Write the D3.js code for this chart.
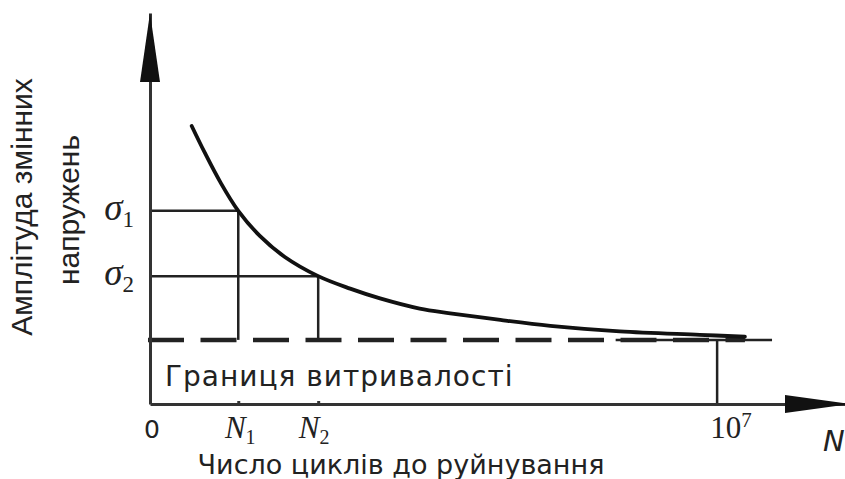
<!DOCTYPE html>
<html>
<head>
<meta charset="utf-8">
<script src="https://cdn.jsdelivr.net/npm/d3@7"></script>
<style>
    html, body { margin: 0; padding: 0; background: #fff; }
    svg { display: block; }
</style>
</head>
<body>
<svg id="chart"></svg>
<script>
// данные (условные единицы, ось N и ось σ от 0 до 100)
var curveN = [6.0, 7.9, 10.1, 12.7, 15.8, 19.4, 24.2, 28.8, 33.1, 38.8, 43.2, 50.4, 57.6, 67.6, 79.1, 85.6];
var curveS = [71.1, 64.2, 56.8, 49.4, 43.0, 37.6, 32.7, 29.5, 27.0, 24.4, 23.2, 21.5, 20.0, 18.6, 17.7, 17.2];

var stressLevels = [49.4, 32.7];          // σ1, σ2
var stressLabels = ["1", "2"];            // индексы σ
var cycleLevels = [12.7, 24.2];           // N1, N2
var enduranceLimit = 16.4;                // граница выносливости
var baseCycles = 81.6;                    // 10^7
var limitLineEnd = 89.5;

var xTicks = [0, 12.7, 24.2, 81.6];
var xTickBase = ["0", "N", "N", "10"];
var xTickSub = ["", "1", "2", ""];
var xTickSup = ["", "", "", "7"];

var yTitle = ["Амплітуда змінних", "напружень"];
var xTitle = "Число циклів до руйнування";
var limitTitle = "Границя витривалості";

(function() {
    var iWidth = 845;
    var iHeight = 479;
    var sInk = "#222";

    var svg = d3.select("#chart")
        .attr("width", iWidth)
        .attr("height", iHeight);

    // шкалы
    var xScale = d3.scaleLinear().domain([0, 100]).range([150, 845]);
    var yScale = d3.scaleLinear().domain([0, 100]).range([404, 13]);

    // вспомогательные линии σ и N
    var guides = svg.append("g")
        .attr("stroke", sInk)
        .attr("stroke-width", 2.5);

    stressLevels.forEach(function(s, i) {
        guides.append("line")
            .attr("x1", xScale(0)).attr("x2", xScale(cycleLevels[i]))
            .attr("y1", yScale(s)).attr("y2", yScale(s));
        guides.append("line")
            .attr("x1", xScale(cycleLevels[i])).attr("x2", xScale(cycleLevels[i]))
            .attr("y1", yScale(s)).attr("y2", yScale(enduranceLimit));
    });

    guides.append("line")
        .attr("x1", xScale(baseCycles)).attr("x2", xScale(baseCycles))
        .attr("y1", yScale(enduranceLimit)).attr("y2", yScale(0));

    // граница выносливости
    svg.append("line")
        .attr("x1", xScale(67)).attr("x2", xScale(limitLineEnd))
        .attr("y1", yScale(enduranceLimit)).attr("y2", yScale(enduranceLimit))
        .attr("stroke", sInk)
        .attr("stroke-width", 2.5);

    svg.append("line")
        .attr("x1", xScale(0) - 2).attr("x2", xScale(curveN[curveN.length - 1]))
        .attr("y1", yScale(enduranceLimit)).attr("y2", yScale(enduranceLimit))
        .attr("stroke", sInk)
        .attr("stroke-width", 4.5)
        .attr("stroke-dasharray", "36,16.5");

    // кривая усталости
    var line = d3.line()
        .x(function(d, i) { return xScale(curveN[i]); })
        .y(function(d, i) { return yScale(curveS[i]); })
        .curve(d3.curveCatmullRom);

    svg.append("path")
        .datum(curveN)
        .attr("fill", "none")
        .attr("stroke", "#111")
        .attr("stroke-width", 3.8)
        .attr("stroke-linecap", "round")
        .attr("d", line);

    // оси
    var xAxis = svg.append("g")
        .attr("transform", "translate(0," + yScale(0) + ")")
        .call(d3.axisBottom(xScale).tickValues(cycleLevels).tickSize(-3).tickSizeOuter(0).tickFormat(""));
    var yAxis = svg.append("g")
        .attr("transform", "translate(" + xScale(0) + ",0)")
        .call(d3.axisLeft(yScale).tickValues([]).tickSizeOuter(0));

    [xAxis, yAxis].forEach(function(g) {
        g.selectAll("path, line")
            .attr("stroke", "#333")
            .attr("stroke-width", 3);
    });

    // стрелки
    var x0 = xScale(0), y0 = yScale(0);
    svg.append("path")
        .attr("d", "M" + (x0 - 10) + ",82 L" + x0 + ",13 L" + (x0 + 10) + ",82 Z")
        .attr("fill", "#111");
    svg.append("path")
        .attr("d", "M785," + (y0 - 9) + " L850," + y0 + " L785," + (y0 + 9) + " Z")
        .attr("fill", "#111");

    // подписи σ
    var sLabels = svg.append("g")
        .attr("font-family", "'Liberation Serif', serif")
        .attr("font-style", "italic")
        .attr("fill", sInk);

    stressLevels.forEach(function(s, i) {
        var t = sLabels.append("text")
            .attr("x", 134)
            .attr("y", yScale(s) + 9)
            .attr("text-anchor", "end")
            .attr("font-size", 37);
        t.append("tspan").text("σ");
        t.append("tspan")
            .attr("font-style", "normal")
            .attr("font-size", 23)
            .attr("dy", 7)
            .text(stressLabels[i]);
    });

    // подписи оси N
    xTicks.forEach(function(v, i) {
        var t = svg.append("text")
            .attr("x", xScale(v) + (i === 3 ? 14 : (i === 2 ? -4 : 2)))
            .attr("y", 438)
            .attr("text-anchor", "middle")
            .attr("fill", sInk);
        if (i === 0) {
            t.attr("font-family", "'DejaVu Sans', sans-serif").attr("font-size", 25);
        } else {
            t.attr("font-family", "'Liberation Serif', serif")
                .attr("font-size", 31)
                .attr("font-style", i === 3 ? "normal" : "italic");
        }
        t.append("tspan").text(xTickBase[i]);
        if (xTickSub[i]) {
            t.append("tspan").attr("font-style", "normal").attr("font-size", 20).attr("dy", 6).text(xTickSub[i]);
        }
        if (xTickSup[i]) {
            t.append("tspan").attr("font-size", 21).attr("dy", -11).text(xTickSup[i]);
        }
    });

    svg.append("text")
        .attr("x", 823)
        .attr("y", 451)
        .attr("font-family", "'DejaVu Sans', sans-serif")
        .attr("font-style", "italic")
        .attr("font-size", 29)
        .attr("fill", sInk)
        .text("N");

    // заголовки
    var fonts = "'DejaVu Sans', Verdana, sans-serif";

    svg.append("text")
        .attr("x", 165)
        .attr("y", 386)
        .attr("font-family", fonts)
        .attr("font-size", 28)
        .attr("letter-spacing", 1)
        .attr("fill", sInk)
        .text(limitTitle);

    svg.append("text")
        .attr("x", 401)
        .attr("y", 474)
        .attr("text-anchor", "middle")
        .attr("font-family", fonts)
        .attr("font-size", 27)
        .attr("fill", sInk)
        .text(xTitle);

    yTitle.forEach(function(s, i) {
        svg.append("text")
            .attr("transform", "translate(" + (i === 0 ? 32 : 79) + "," + (i === 0 ? 207 : 210) + ") rotate(-90)")
            .attr("text-anchor", "middle")
            .attr("font-family", "'Liberation Sans', Arial, sans-serif")
            .attr("font-size", 30)
            .attr("fill", sInk)
            .text(s);
    });
})();
</script>
</body>
</html>
